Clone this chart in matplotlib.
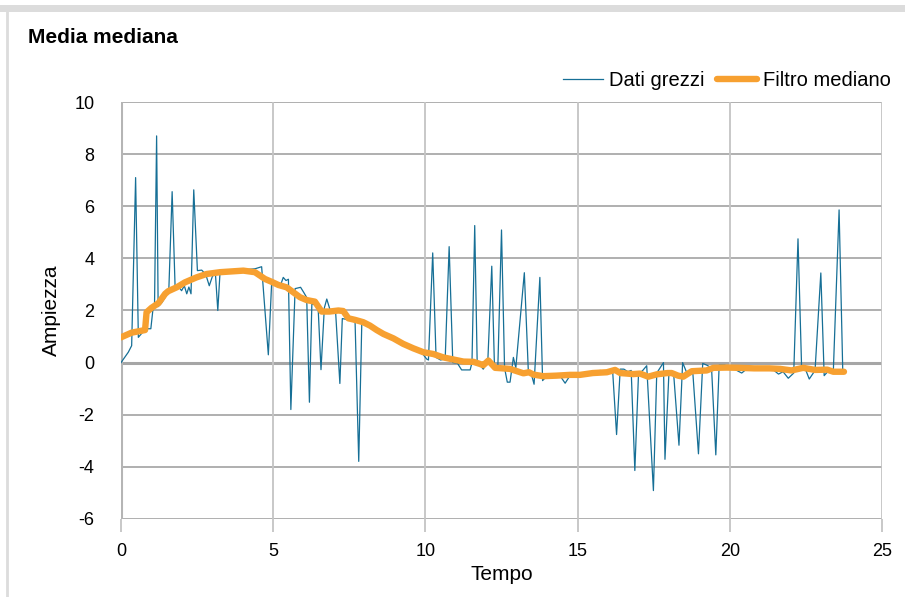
import numpy as np
import matplotlib.pyplot as plt
from matplotlib.lines import Line2D

plt.rcParams['font.family'] = ['Liberation Sans', 'DejaVu Sans']
plt.rcParams['axes.unicode_minus'] = False

# Raw data (time, amplitude)
t_raw = [0.00, 0.12, 0.24, 0.35, 0.48, 0.57, 0.70, 0.85, 0.98, 1.05, 1.10, 1.17, 1.22, 1.34, 1.45,
         1.57, 1.68, 1.78, 1.90, 1.99, 2.08, 2.16, 2.23, 2.30, 2.39, 2.51, 2.65, 2.78, 2.90, 3.00,
         3.10, 3.18, 3.25, 3.40, 3.60, 3.80, 4.00, 4.20, 4.40, 4.62, 4.84, 4.95, 5.10, 5.25, 5.33,
         5.42, 5.50, 5.58, 5.72, 5.90, 6.00, 6.10, 6.19, 6.27, 6.40, 6.48, 6.57, 6.68, 6.76, 6.90,
         7.05, 7.19, 7.27, 7.45, 7.60, 7.69, 7.81, 7.91, 8.10, 8.30, 8.50, 8.70, 8.90, 9.10, 9.30,
         9.50, 9.70, 9.90, 10.04, 10.10, 10.24, 10.35, 10.50, 10.65, 10.78, 10.90, 11.05, 11.19, 11.33,
         11.47, 11.53, 11.62, 11.70, 11.80, 11.90, 12.05, 12.18, 12.27, 12.38, 12.50, 12.60, 12.69, 12.78,
         12.89, 12.97, 13.25, 13.38, 13.47, 13.57, 13.76, 13.85, 14.00, 14.15, 14.30, 14.42, 14.59, 14.75,
         14.90, 15.05, 15.20, 15.35, 15.50, 15.62, 15.74, 15.88, 16.00, 16.15, 16.28, 16.40, 16.52, 16.65,
         16.76, 16.88, 17.00, 17.14, 17.27, 17.49, 17.60, 17.82, 17.87, 18.00, 18.15, 18.33, 18.45, 18.59,
         18.78, 18.97, 19.11, 19.25, 19.40, 19.54, 19.65, 19.84, 20.00, 20.15, 20.39, 20.55, 20.70, 20.90,
         21.05, 21.21, 21.40, 21.60, 21.75, 21.92, 22.10, 22.24, 22.36, 22.50, 22.61, 22.80, 22.99, 23.10,
         23.25, 23.40, 23.59, 23.71, 23.80]
raw = [0.00, 0.20, 0.40, 0.65, 7.10, 0.97, 1.15, 1.30, 1.30, 2.05, 2.10, 8.70, 2.15, 2.30, 2.50,
       2.75, 6.56, 2.80, 2.90, 2.76, 2.95, 2.64, 2.90, 2.64, 6.63, 3.53, 3.55, 3.40, 2.95, 3.30,
       3.45, 2.00, 3.40, 3.50, 3.52, 3.50, 3.55, 3.58, 3.60, 3.68, 0.30, 3.08, 3.05, 3.00, 3.27,
       3.15, 3.20, -1.80, 2.84, 2.89, 2.70, 2.50, -1.52, 2.26, 2.20, 2.00, -0.27, 2.10, 2.44, 1.90,
       1.95, -0.80, 1.69, 1.65, 1.60, 1.55, -3.79, 1.50, 1.40, 1.30, 1.20, 1.05, 0.95, 0.85, 0.70,
       0.60, 0.45, 0.35, 0.14, 0.10, 4.21, 0.20, 0.10, 0.15, 4.45, 0.00, -0.02, -0.28, -0.28,
       -0.28, 0.00, 5.26, 0.05, -0.10, -0.25, 0.05, 3.70, -0.20, -0.15, 5.09, -0.20, -0.75, -0.75,
       0.20, -0.20, 3.45, -0.30, -0.40, -0.83, 3.27, -0.69, -0.50, -0.55, -0.50, -0.50, -0.79, -0.50,
       -0.55, -0.45, -0.50, -0.40, -0.45, -0.35, -0.30, -0.35, -0.30, -0.30, -2.76, -0.25, -0.25, -0.35,
       -0.30, -4.14, -0.45, -0.30, -0.12, -4.91, -0.40, 0.00, -3.71, -0.40, -0.35, -3.17, 0.00, -0.40,
       -0.30, -3.50, -0.03, -0.10, -0.20, -3.54, -0.10, -0.10, -0.20, -0.25, -0.40, -0.25, -0.20, -0.15,
       -0.20, -0.20, -0.25, -0.44, -0.35, -0.60, -0.40, 4.75, -0.25, -0.30, -0.63, -0.30, 3.44, -0.50,
       -0.30, -0.35, 5.86, -0.30, -0.35]

# Median filter output
t_med = [0.00, 0.35, 0.57, 0.79, 0.84, 1.00, 1.23, 1.45, 1.55, 1.83, 2.10, 2.48, 2.81, 3.25, 4.02,
         4.40, 4.73, 4.95, 5.17, 5.44, 5.66, 5.88, 6.10, 6.37, 6.59, 6.85, 7.14, 7.30, 7.47, 7.69,
         7.96, 8.18, 8.40, 8.62, 8.95, 9.27, 9.60, 9.93, 10.26, 10.59, 10.92, 11.25, 11.58, 11.79, 11.90,
         12.07, 12.29, 12.78, 12.93, 13.22, 13.40, 13.55, 13.87, 14.30, 14.75, 15.08, 15.50, 15.96, 16.23,
         16.40, 16.83, 17.05, 17.32, 17.60, 17.95, 18.09, 18.30, 18.47, 18.75, 19.24, 19.46, 19.90, 20.30,
         20.80, 21.30, 21.65, 22.03, 22.41, 22.80, 23.20, 23.40, 23.75]
med = [0.97, 1.15, 1.20, 1.25, 1.93, 2.10, 2.28, 2.64, 2.74, 2.89, 3.08, 3.27, 3.40, 3.47, 3.53,
       3.47, 3.21, 3.10, 2.98, 2.89, 2.70, 2.51, 2.40, 2.34, 1.96, 1.96, 2.00, 1.98, 1.70, 1.64,
       1.55, 1.42, 1.25, 1.10, 0.93, 0.72, 0.55, 0.40, 0.33, 0.20, 0.12, 0.04, 0.03, -0.05, -0.10,
       0.08, -0.20, -0.24, -0.30, -0.41, -0.37, -0.46, -0.52, -0.50, -0.47, -0.47, -0.40, -0.37, -0.28,
       -0.40, -0.44, -0.42, -0.54, -0.45, -0.40, -0.40, -0.50, -0.54, -0.33, -0.30, -0.20, -0.19, -0.20,
       -0.22, -0.22, -0.24, -0.30, -0.20, -0.28, -0.27, -0.35, -0.35]

blue = '#166f96'
orange = '#f7a030'

fig = plt.figure(figsize=(9.05, 5.97), dpi=100)

# card border
fig.add_artist(Line2D([0, 1], [0.9865, 0.9865], transform=fig.transFigure, color='#dcdcdc', lw=5))
fig.add_artist(Line2D([0.0075, 0.0075], [0, 0.99], transform=fig.transFigure, color='#dcdcdc', lw=2))

ax = fig.add_axes([0.1337, 0.1307, 0.8409, 0.6984])

ax.plot(t_raw, raw, color=blue, lw=0.9, label='Dati grezzi', zorder=3)
ax.plot(t_med, med, color=orange, lw=4.6, solid_capstyle='round', solid_joinstyle='round',
        label='Filtro mediano', zorder=4)

ax.set_xlim(0, 25)
ax.set_ylim(-6, 10)
ax.set_xticks(np.arange(0, 26, 5))
ax.set_yticks(np.arange(-6, 11, 2))

for v in np.arange(-6, 11, 2):
    if v == 0:
        ax.axhline(v, color='#a6a6a6', lw=2.2, zorder=1)
    else:
        ax.axhline(v, color='#9a9a9a', lw=1.1, zorder=1)
for v in np.arange(5, 26, 5):
    ax.axvline(v, color='#c4c4c4', lw=1.3, zorder=1)
ax.axvline(0, color='#b5b5b5', lw=2.2, zorder=1)

for s in ax.spines.values():
    s.set_visible(False)

ax.tick_params(axis='x', length=9, width=1.3, color='#c4c4c4', labelsize=13, pad=8)
ax.tick_params(axis='y', length=0, labelsize=13, pad=19)

ax.set_xlabel('Tempo', fontsize=15, labelpad=4)
ax.set_ylabel('Ampiezza', fontsize=15, labelpad=10)

fig.text(0.031, 0.938, 'Media mediana', fontsize=15, fontweight='bold', va='center')

leg = ax.legend(loc='lower right', bbox_to_anchor=(1.025, 1.005), ncol=2, frameon=False,
                fontsize=14.5, handlelength=2.0, handletextpad=0.3, columnspacing=0.6,
                borderaxespad=0.1)

fig.savefig('out.png', dpi=100)
